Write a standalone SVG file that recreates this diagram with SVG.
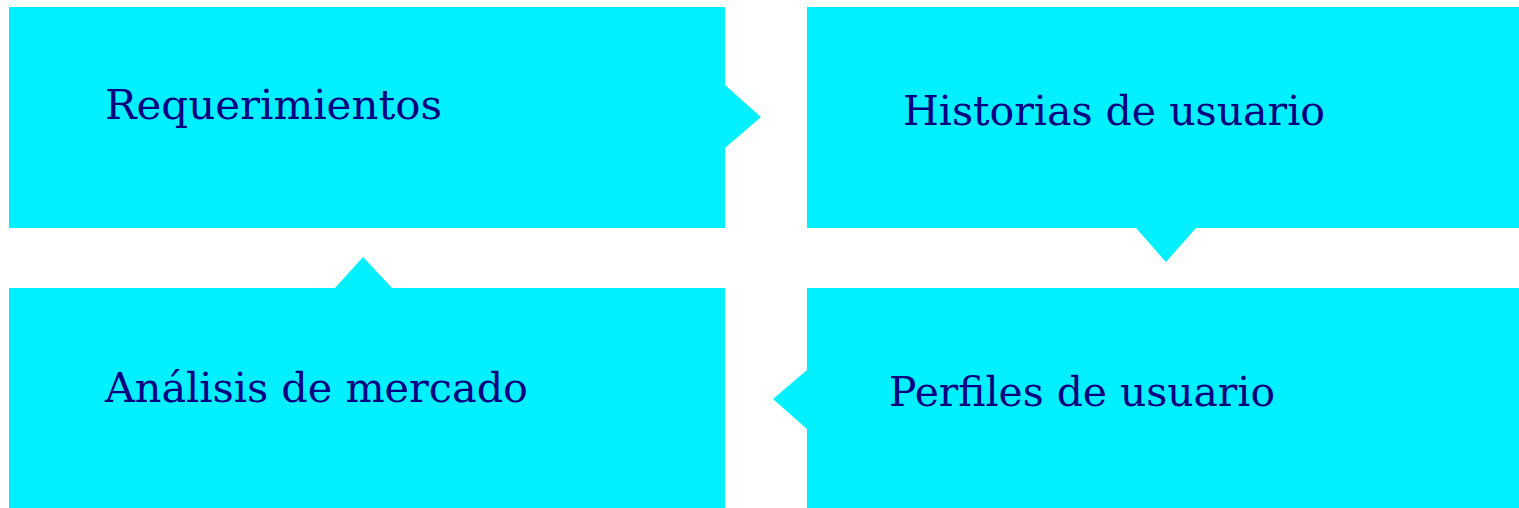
<svg xmlns="http://www.w3.org/2000/svg" width="1519" height="508" viewBox="0 0 1519 508">
<style>
.box{fill:#00F0FF;stroke:none}
.lbl{font-family:"DejaVu Serif",serif;font-size:41.5px;fill:#000080}
</style>
<rect width="1519" height="508" fill="#ffffff"/>
<g id="connectors"></g>
<g id="node-requerimientos">
<path class="box" d="M9,7 H725 V85 L761,117 L725,148 V228 H9 Z"/>
<text class="lbl" x="105" y="119" textLength="337" lengthAdjust="spacingAndGlyphs">Requerimientos</text>
</g>
<g id="node-historias">
<path class="box" d="M807,7 H1519 V228 H1196 L1166,262 L1136,228 H807 Z"/>
<text class="lbl" x="903" y="125" textLength="422" lengthAdjust="spacingAndGlyphs">Historias de usuario</text>
</g>
<g id="node-perfiles">
<path class="box" d="M807,288 H1519 V508 H807 V429 L773,399 L807,370 Z"/>
<text class="lbl" x="889" y="406" textLength="386" lengthAdjust="spacingAndGlyphs">Perfiles de usuario</text>
</g>
<g id="node-analisis">
<path class="box" d="M9,288 H335 L363,257 L392,288 H725 V508 H9 Z"/>
<text class="lbl" x="105" y="402" textLength="423" lengthAdjust="spacingAndGlyphs">Análisis de mercado</text>
</g>
</svg>
